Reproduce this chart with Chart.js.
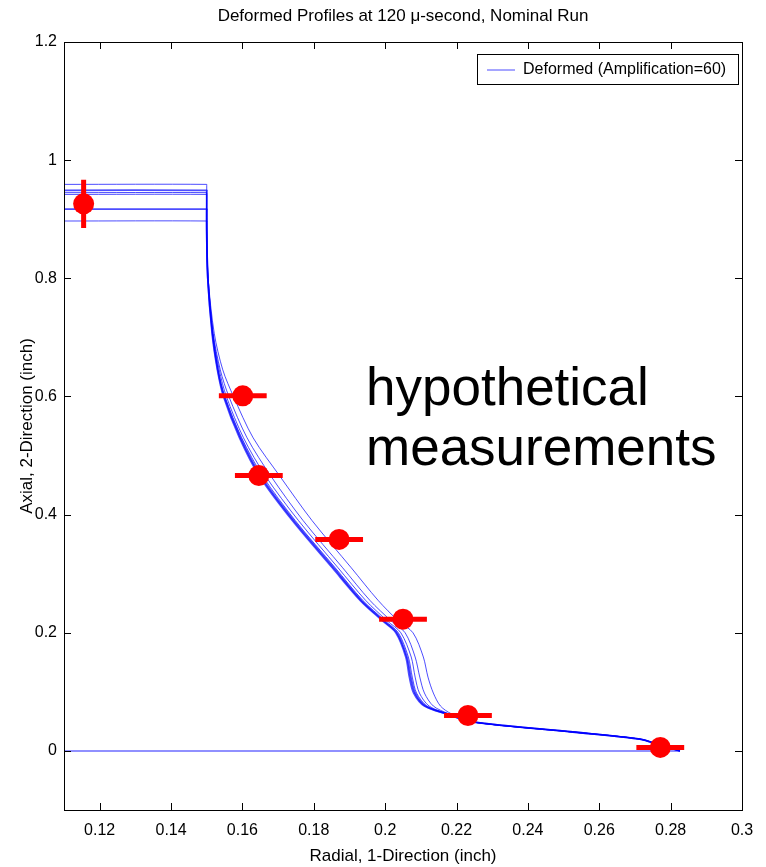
<!DOCTYPE html>
<html>
<head>
<meta charset="utf-8">
<script src="https://cdn.jsdelivr.net/npm/chart.js@4.4.1/dist/chart.umd.min.js"></script>
<style>
  html, body { margin: 0; padding: 0; background: #fff; }
  #wrap { position: relative; width: 766px; height: 867px; }
  #note {
    position: absolute; left: 366px; top: 357px;
    font: 53px 'Liberation Sans', Arial, sans-serif; line-height: 60px; color: #000;
  }
</style>
</head>
<body>
<div id="wrap">
  <canvas id="chart" width="766" height="867"></canvas>
  <div id="note">hypothetical<br>measurements</div>
</div>
<script>
const FONT = "'Liberation Sans', Arial, sans-serif";

// axis ticks
const xTicks = [0.12, 0.14, 0.16, 0.18, 0.2, 0.22, 0.24, 0.26, 0.28, 0.3];
const yTicks = [0, 0.2, 0.4, 0.6, 0.8, 1, 1.2];

// top (undeformed end) height of each deformed profile
const profileTops = [0.959, 0.949, 0.945, 0.917, 0.942, 0.897];

// shared axial stations along the bend, and radial position of each profile there
const bendY = [0.88, 0.80, 0.707, 0.645, 0.60, 0.53, 0.465, 0.39, 0.31, 0.255, 0.22, 0.20, 0.159, 0.125, 0.098, 0.076, 0.063];
const bendX1 = [0.1500, 0.1503, 0.1516, 0.1532, 0.1551, 0.1598, 0.1657, 0.1748, 0.1860, 0.1937, 0.2000, 0.2037, 0.2065, 0.2076, 0.2088, 0.2117, 0.2172];
const bendX2 = [0.1500, 0.1503, 0.1515, 0.1530, 0.1547, 0.1592, 0.1648, 0.1740, 0.1852, 0.1930, 0.1993, 0.2030, 0.2058, 0.2068, 0.2080, 0.2110, 0.2170];
const bendX3 = [0.1500, 0.1503, 0.1517, 0.1535, 0.1555, 0.1603, 0.1665, 0.1757, 0.1868, 0.1945, 0.2006, 0.2044, 0.2073, 0.2084, 0.2096, 0.2123, 0.2175];
const bendX4 = [0.1500, 0.1503, 0.1516, 0.1531, 0.1549, 0.1595, 0.1652, 0.1744, 0.1856, 0.1933, 0.1996, 0.2033, 0.2061, 0.2072, 0.2084, 0.2113, 0.2171];
const bendX5 = [0.1500, 0.1504, 0.1518, 0.1538, 0.1562, 0.1613, 0.1680, 0.1770, 0.1881, 0.1957, 0.2017, 0.2056, 0.2084, 0.2097, 0.2110, 0.2135, 0.2178];
const bendX6 = [0.1500, 0.1504, 0.1521, 0.1545, 0.1575, 0.1630, 0.1705, 0.1795, 0.1905, 0.1980, 0.2037, 0.2078, 0.2107, 0.2120, 0.2135, 0.2155, 0.2185];

// tail along the bottom, where all profiles meet
const tailX = [0.2245, 0.2526, 0.2714, 0.2770, 0.2826];
const tailY = [0.049, 0.032, 0.020, 0.010, 0.0];

// bottom surface
const baseX = [0.11, 0.2826];
const baseY = [0, 0];

// hypothetical measurements and their error bars
const measX = [0.1155, 0.1601, 0.1646, 0.1871, 0.2050, 0.2232, 0.2771];
const measY = [0.926, 0.601, 0.466, 0.358, 0.223, 0.060, 0.006];
const errX = [0, 0.0067, 0.0067, 0.0067, 0.0067, 0.0067, 0.0067];
const errY = [0.041, 0, 0, 0, 0, 0, 0];

const bends = [bendX1, bendX2, bendX3, bendX4, bendX5, bendX6];

function profilePoints(top, bx) {
  const pts = [{ x: 0.11, y: top }, { x: 0.15, y: top }, { x: 0.15, y: top - 0.002 }];
  bx.forEach((x, i) => pts.push({ x: x, y: bendY[i] }));
  tailX.forEach((x, i) => pts.push({ x: x, y: tailY[i] }));
  return pts;
}

function errorBarPoints() {
  const pts = [];
  measX.forEach((x, i) => {
    const y = measY[i];
    if (errX[i] > 0) pts.push({ x: x - errX[i], y: y }, { x: x + errX[i], y: y }, { x: x, y: null });
    if (errY[i] > 0) pts.push({ x: x, y: y - errY[i] }, { x: x, y: y + errY[i] }, { x: x, y: null });
  });
  return pts;
}

const profileSets = bends.map((bx, i) => ({
  label: 'Deformed (Amplification=60)',
  inLegend: i === 0,
  data: profilePoints(profileTops[i], bx),
  borderColor: 'rgba(0,0,255,0.7)',
  borderWidth: (i === 1 || i === 3) ? 1.8 : 1,
  pointRadius: 0,
  tension: 0.3,
  fill: false,
  order: 3
}));

// inward tick marks on all four sides plus the axes box
const boxAxes = {
  id: 'boxAxes',
  afterLayout(chart) {
    // move the legend into the upper right corner of the axes
    const lg = chart.legend;
    const w = lg.right - lg.left;
    lg.left = 477;
    lg.right = lg.left + w;
    lg.top = 52;
    lg.bottom = lg.top + 40;
  },
  afterDraw(chart) {
    const { ctx, chartArea: a, scales } = chart;
    const len = 7;
    ctx.save();
    ctx.strokeStyle = '#000';
    ctx.lineWidth = 1;
    ctx.beginPath();
    xTicks.forEach(v => {
      const px = Math.round(scales.x.getPixelForValue(v)) + 0.5;
      ctx.moveTo(px, a.bottom); ctx.lineTo(px, a.bottom - len);
      ctx.moveTo(px, a.top); ctx.lineTo(px, a.top + len);
    });
    yTicks.forEach(v => {
      const py = Math.round(scales.y.getPixelForValue(v)) + 0.5;
      ctx.moveTo(a.left, py); ctx.lineTo(a.left + len, py);
      ctx.moveTo(a.right, py); ctx.lineTo(a.right - len, py);
    });
    ctx.stroke();
    ctx.strokeRect(Math.round(a.left) + 0.5, Math.round(a.top) + 0.5, Math.round(a.right - a.left), Math.round(a.bottom - a.top));

    // frame around the legend
    const hb = chart.legend.legendHitBoxes[0];
    if (hb) {
      ctx.strokeRect(Math.round(hb.left - 10) + 0.5, Math.round(hb.top - 8) + 0.5, Math.round(hb.width + 22), Math.round(hb.height + 14));
    }
    ctx.restore();
  }
};

new Chart(document.getElementById('chart'), {
  type: 'line',
  data: {
    datasets: [
      {
        label: 'measurements',
        type: 'scatter',
        data: measX.map((x, i) => ({ x: x, y: measY[i] })),
        backgroundColor: '#ff0000',
        borderWidth: 0,
        pointRadius: 10.5,
        pointHoverRadius: 10.5,
        order: 0
      },
      {
        label: 'error bars',
        data: errorBarPoints(),
        borderColor: '#ff0000',
        borderWidth: 5,
        borderCapStyle: 'butt',
        pointRadius: 0,
        spanGaps: false,
        fill: false,
        order: 1
      },
      ...profileSets,
      {
        label: 'bottom',
        data: baseX.map((x, i) => ({ x: x, y: baseY[i] })),
        borderColor: 'rgba(70,70,255,0.8)',
        borderWidth: 1.5,
        pointRadius: 0,
        fill: false,
        order: 4
      }
    ]
  },
  options: {
    responsive: false,
    animation: false,
    layout: { padding: { left: 0, right: 24, top: 0, bottom: 0 } },
    scales: {
      x: {
        type: 'linear',
        min: 0.11,
        max: 0.3,
        afterBuildTicks: s => { s.ticks = xTicks.map(v => ({ value: v })); },
        afterFit: s => { s.height = 57; },
        grid: { display: false },
        border: { display: false },
        ticks: {
          color: '#000',
          padding: 3,
          font: { family: FONT, size: 16 },
          callback: v => String(+v.toFixed(2))
        },
        title: {
          display: true,
          text: 'Radial, 1-Direction (inch)',
          color: '#000',
          font: { family: FONT, size: 17 },
          padding: { top: 0, bottom: 0 }
        }
      },
      y: {
        type: 'linear',
        min: -0.1,
        max: 1.2,
        afterBuildTicks: s => { s.ticks = yTicks.map(v => ({ value: v })); },
        afterFit: s => { s.width = 64; },
        grid: { display: false },
        border: { display: false },
        ticks: {
          color: '#000',
          padding: -1,
          font: { family: FONT, size: 16 },
          callback: v => String(+v.toFixed(2))
        },
        title: {
          display: true,
          text: 'Axial, 2-Direction (inch)',
          color: '#000',
          font: { family: FONT, size: 17 },
          padding: { top: 17, bottom: 0 }
        }
      }
    },
    plugins: {
      title: {
        display: true,
        text: 'Deformed Profiles at 120 \u03bc-second, Nominal Run',
        color: '#000',
        fullSize: false,
        font: { family: FONT, size: 17, weight: 'normal' },
        padding: { top: 6, bottom: 15.6 }
      },
      legend: {
        display: true,
        position: 'chartArea',
        align: 'start',
        labels: {
          color: '#000',
          font: { family: FONT, size: 16 },
          usePointStyle: true,
          pointStyle: 'line',
          pointStyleWidth: 28,
          padding: 10,
          filter: (item, data) => data.datasets[item.datasetIndex].inLegend === true
        }
      },
      tooltip: { enabled: false }
    }
  },
  plugins: [boxAxes]
});
</script>
</body>
</html>
